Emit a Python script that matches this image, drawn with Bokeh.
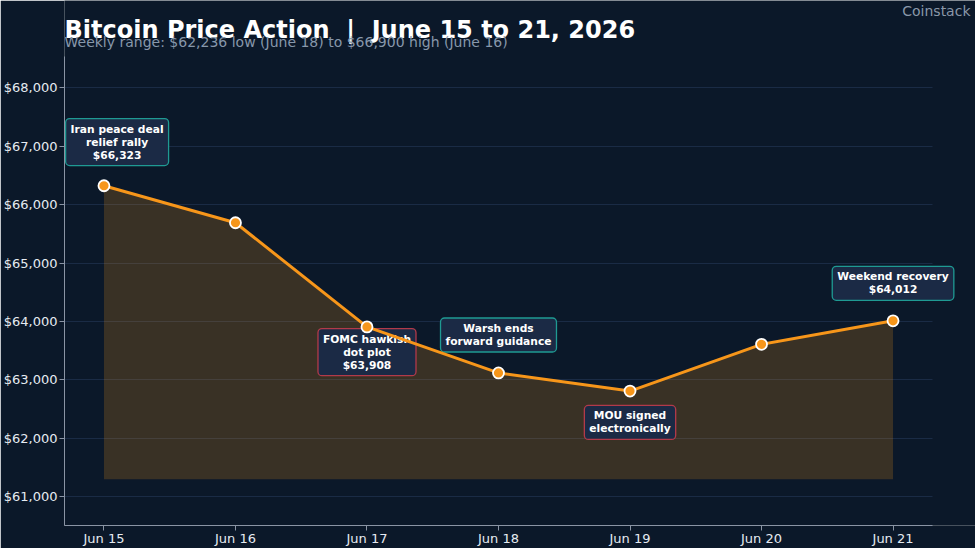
from bokeh.plotting import figure
from bokeh.models import Label, NumeralTickFormatter, FixedTicker, Range1d
from bokeh.embed import file_html
from bokeh.resources import INLINE

# ---- data ----
dates = ["Jun 15", "Jun 16", "Jun 17", "Jun 18", "Jun 19", "Jun 20", "Jun 21"]
prices = [66323, 65690, 63908, 63120, 62810, 63610, 64012]
fill_base = 61300
y_ticks = [61000, 62000, 63000, 64000, 65000, 66000, 67000, 68000]

note_texts = [
    "Iran peace deal\nrelief rally\n$66,323",
    "FOMC hawkish\ndot plot\n$63,908",
    "Warsh ends\nforward guidance",
    "MOU signed\nelectronically",
    "Weekend recovery\n$64,012",
]
note_day = [0, 2, 3, 4, 6]
note_kind = ["up", "down", "up", "down", "up"]

title_text = "Bitcoin Price Action \u00a0|\u00a0 June 15 to 21, 2026"
subtitle_text = "Weekly range: $62,236 low (June 18) to $66,900 high (June 16)"
source_text = "Coinstack"

# ---- style / layout ----
BG = "#0b1829"
ORANGE = "#f7961a"
BOX = "#1b2a45"
TEAL = "#1f9a93"
RED = "#b23a4a"
FONT = "DejaVu Sans"
note_dx = [0.1, 0, 0, 0, 0]
note_dy = [747, -432, 649, -537, 642]
x_lo, x_hi = -0.3, 6.3          # visible axis extent
y_lo, y_hi = 60510, 68530

x = list(range(len(dates)))

p = figure(width=975, height=548, output_backend="svg", toolbar_location=None,
           title=None,
           x_range=Range1d(x_lo, 6.627), y_range=Range1d(y_lo, 69492),
           min_border_left=63, min_border_right=0, min_border_top=0,
           min_border_bottom=23)
p.background_fill_color = BG
p.border_fill_color = BG
p.outline_line_color = None

# fill under the line
p.varea(x=x, y1=[fill_base] * len(x), y2=prices, fill_color=ORANGE,
        fill_alpha=0.2)

# axes
p.xaxis.ticker = FixedTicker(ticks=x)
p.xaxis.major_label_overrides = {i: d for i, d in enumerate(dates)}
p.xaxis.bounds = (x_lo, x_hi)
p.yaxis.ticker = FixedTicker(ticks=y_ticks)
p.yaxis.formatter = NumeralTickFormatter(format="$0,0")
p.yaxis.bounds = (y_lo, y_hi)
for ax in (p.xaxis, p.yaxis):
    ax.axis_line_color = "#8a94a4"
    ax.major_tick_line_color = "#8a94a4"
    ax.major_tick_out = 5
    ax.major_tick_in = 0
    ax.minor_tick_line_color = None
    ax.major_label_text_color = "#e6ebf1"
    ax.major_label_text_font = FONT
    ax.major_label_text_font_size = "13px"
p.xaxis.major_label_standoff = 0
p.yaxis.major_label_standoff = 2
p.xgrid.grid_line_color = None
p.ygrid.grid_line_color = "#1a2b45"
p.ygrid.grid_line_width = 1
try:
    p.ygrid.cross_bounds = (x_lo, x_hi)
except Exception:
    p.ygrid.grid_line_color = None
    p.segment(x0=x_lo, x1=x_hi, y0=y_ticks, y1=y_ticks,
              line_color="#1a2b45", line_width=1, level="underlay")

# annotations
for t, d, k, dx, dy in zip(note_texts, note_day, note_kind, note_dx, note_dy):
    p.add_layout(Label(x=d + dx, y=prices[d] + dy, text=t, text_align="center",
                       text_baseline="middle", text_color="white",
                       text_font=FONT, text_font_style="bold",
                       text_font_size="10.7px", text_line_height=1.0,
                       background_fill_color=BOX,
                       border_line_color=TEAL if k == "up" else RED,
                       border_line_width=1.3, padding=(5, 4), border_radius=4))

# price line and markers (drawn over the note boxes)
p.line(x, prices, line_color=ORANGE, line_width=3, level="overlay")
p.scatter(x, prices, size=11, fill_color=ORANGE, line_color="white",
          line_width=1.8, level="overlay")

# titles
p.add_layout(Label(x=0, y=496, x_units="screen", y_units="screen",
                   text=title_text, text_color="white", text_font=FONT,
                   text_font_style="bold", text_font_size="24px",
                   text_baseline="alphabetic"))
p.add_layout(Label(x=0, y=484, x_units="screen", y_units="screen",
                   text=subtitle_text, text_color="#8797ab", text_font=FONT,
                   text_font_size="14px", text_baseline="alphabetic"))
p.add_layout(Label(x=906, y=515, x_units="screen", y_units="screen",
                   text=source_text, text_color="#8a97a8", text_font=FONT,
                   text_font_size="14px", text_align="right",
                   text_baseline="alphabetic"))

html = file_html(p, INLINE)
html = html.replace("<body>", '<body style="margin:0;background:%s;overflow:hidden">' % BG, 1)
open("out.html", "w").write(html)
